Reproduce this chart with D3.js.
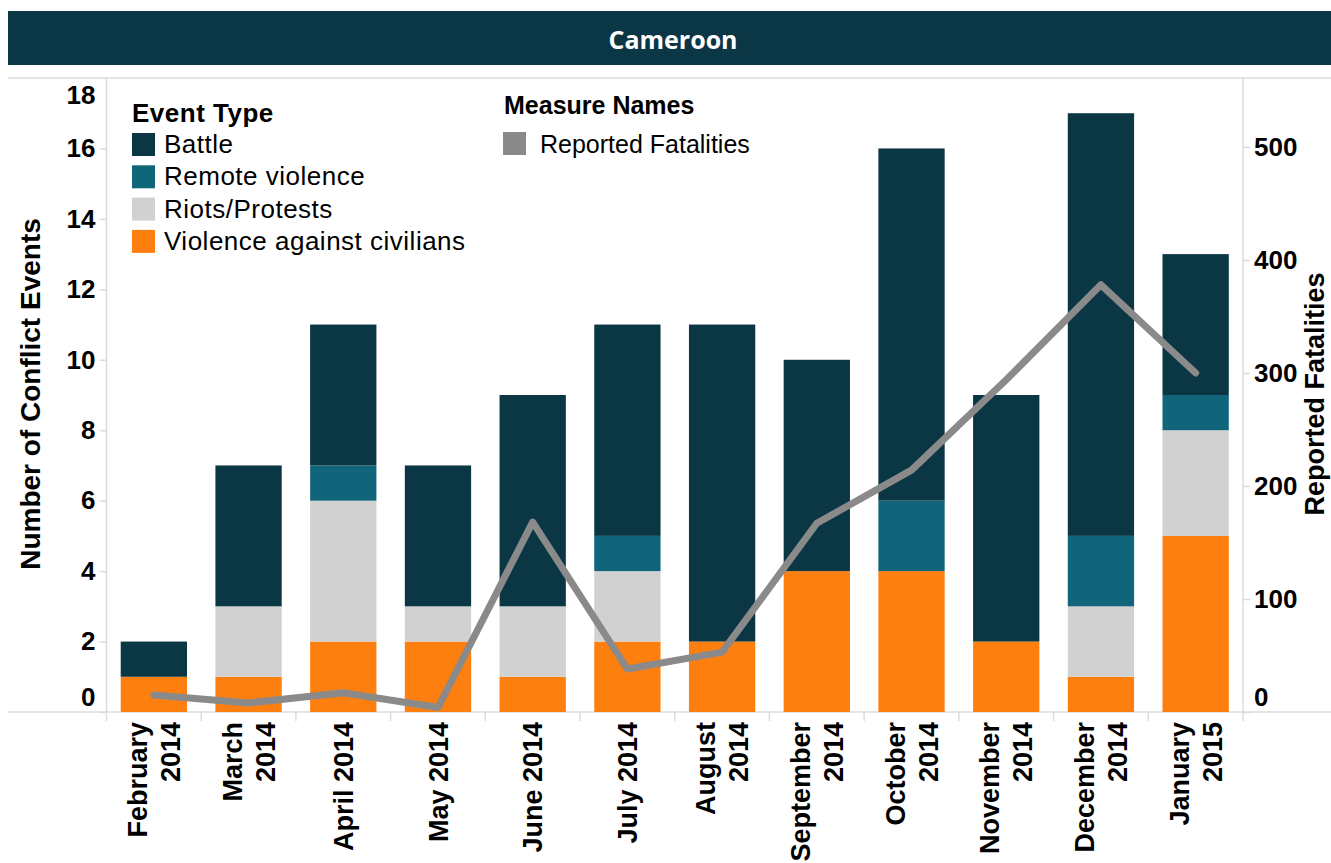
<!DOCTYPE html>
<html>
<head>
<meta charset="utf-8">
<script src="https://cdn.jsdelivr.net/npm/d3@7"></script>
<style>
	body { margin: 0; background: #fff; }
	svg { display: block; font-family: "Liberation Sans", Arial, sans-serif; }
</style>
</head>
<body>
<script>
var WIDTH = 1331, HEIGHT = 863;

var MONTHS = [
	"February 2014", "March 2014", "April 2014", "May 2014", "June 2014", "July 2014",
	"August 2014", "September 2014", "October 2014", "November 2014", "December 2014", "January 2015"
];
// how the tick labels wrap on the chart
var MONTH_LINES = [
	["February", "2014"], ["March", "2014"], ["April 2014"], ["May 2014"], ["June 2014"], ["July 2014"],
	["August", "2014"], ["September", "2014"], ["October", "2014"], ["November", "2014"], ["December", "2014"], ["January", "2015"]
];

var EVENT_TYPES = ["Battle", "Remote violence", "Riots/Protests", "Violence against civilians"];
var BATTLE = [1, 4, 4, 4, 6, 6, 9, 6, 10, 7, 12, 4];
var REMOTE = [0, 0, 1, 0, 0, 1, 0, 0, 2, 0, 2, 1];
var RIOTS = [0, 2, 4, 1, 2, 2, 0, 0, 0, 0, 2, 3];
var CIVILIANS = [1, 1, 2, 2, 1, 2, 2, 4, 4, 2, 1, 5];
var FATALITIES = [15, 8, 17, 4, 168, 38, 53, 167, 214, 294, 378, 300];

var LEFT_TICKS = [0, 2, 4, 6, 8, 10, 12, 14, 16, 18];
var RIGHT_TICKS = [0, 100, 200, 300, 400, 500];

var COLORS = {
	"Battle": "#0b3644",
	"Remote violence": "#10657b",
	"Riots/Protests": "#d1d1d1",
	"Violence against civilians": "#fd7f10"
};
var LINE_COLOR = "#8a8a8a";
var RULE = "#dcdcdc";

var layout = { left: 106.5, right: 1243, top: 78, bottom: 712 };

var rows = MONTHS.map((m, i) => ({
	month: m,
	"Battle": BATTLE[i],
	"Remote violence": REMOTE[i],
	"Riots/Protests": RIOTS[i],
	"Violence against civilians": CIVILIANS[i],
	fatal: FATALITIES[i]
}));

var svg = d3.select("body").append("svg").attr("width", WIDTH).attr("height", HEIGHT);

// Title bar
svg.append("rect").attr("x", 8).attr("y", 11).attr("width", WIDTH - 8).attr("height", 54).attr("fill", "#0b3645");
svg.append("text")
	.attr("x", 673).attr("y", 39)
	.attr("text-anchor", "middle").attr("dominant-baseline", "central")
	.style("font-family", '"Open Sans", Calibri, sans-serif')
	.style("font-weight", "bold").style("font-size", "25px")
	.attr("fill", "#fff")
	.text("Cameroon");

// Scales
var x = d3.scaleBand().domain(MONTHS).range([layout.left, layout.right]).paddingInner(0.3).paddingOuter(0.15);
var y = d3.scaleLinear().domain([0, 18]).range([layout.bottom, layout.top]);
var y2 = d3.scaleLinear().domain([0, 561]).range([layout.bottom, layout.top]);

// Frame lines
svg.append("line").attr("x1", 8).attr("x2", WIDTH).attr("y1", layout.top).attr("y2", layout.top).attr("stroke", RULE).attr("stroke-width", 1.5);
svg.append("line").attr("x1", 8).attr("x2", WIDTH).attr("y1", layout.bottom).attr("y2", layout.bottom).attr("stroke", RULE).attr("stroke-width", 1.5);
[layout.left, layout.right].forEach(xx => {
	svg.append("line").attr("x1", xx).attr("x2", xx).attr("y1", layout.top).attr("y2", layout.bottom + 9).attr("stroke", RULE).attr("stroke-width", 1.5);
});
// category separators under the baseline
svg.append("g").selectAll("line")
	.data(MONTHS.slice(1))
	.enter().append("line")
	.attr("x1", d => x(d) - x.step() * x.paddingInner() / 2)
	.attr("x2", d => x(d) - x.step() * x.paddingInner() / 2)
	.attr("y1", layout.bottom).attr("y2", layout.bottom + 9)
	.attr("stroke", RULE).attr("stroke-width", 1.5);

// Stacked bars, bottom up
var stack = d3.stack().keys(EVENT_TYPES.slice().reverse());
var series = stack(rows);

svg.append("g").attr("class", "bars")
	.selectAll("g")
	.data(series)
	.enter().append("g")
	.attr("fill", d => COLORS[d.key])
	.selectAll("rect")
	.data(d => d.filter(s => s[1] > s[0]))
	.enter().append("rect")
	.attr("x", d => x(d.data.month))
	.attr("width", x.bandwidth())
	.attr("y", d => y(d[1]))
	.attr("height", d => y(d[0]) - y(d[1]));

// Fatalities line
var line = d3.line()
	.x(d => x(d.month) + x.bandwidth() / 2)
	.y(d => y2(d.fatal));
svg.append("path")
	.datum(rows)
	.attr("d", line)
	.attr("fill", "none")
	.attr("stroke", LINE_COLOR)
	.attr("stroke-width", 7)
	.attr("stroke-linejoin", "round")
	.attr("stroke-linecap", "round");

// Axes
var leftAxis = svg.append("g")
	.attr("transform", `translate(${layout.left},0)`)
	.call(d3.axisLeft(y).tickValues(LEFT_TICKS).tickSize(7).tickPadding(4));
var rightAxis = svg.append("g")
	.attr("transform", `translate(${layout.right},0)`)
	.call(d3.axisRight(y2).tickValues(RIGHT_TICKS).tickSize(7).tickPadding(4));

[leftAxis, rightAxis].forEach(g => {
	g.select(".domain").remove();
	g.selectAll(".tick line").attr("stroke", RULE).attr("stroke-width", 1.5);
	g.selectAll(".tick text")
		.attr("fill", "#000")
		.style("font-family", '"Liberation Sans", Arial, sans-serif')
		.style("font-weight", "bold")
		.style("font-size", "26px");
});
// edge labels are pulled inside the plot, tableau style
leftAxis.selectAll(".tick").filter(d => d === 0).select("text").attr("dy", "-0.25em");
leftAxis.selectAll(".tick").filter(d => d === 18).select("text").attr("dy", "0.98em");
leftAxis.selectAll(".tick").filter(d => d === 18).select("line").remove();
rightAxis.selectAll(".tick").filter(d => d === 0).select("text").attr("dy", "-0.25em");

// Month labels, rotated
var xLabels = svg.append("g").attr("class", "xLabels")
	.selectAll("g")
	.data(MONTHS)
	.enter().append("g")
	.attr("transform", d => `translate(${x(d) + x.bandwidth() / 2},${layout.bottom + 10}) rotate(-90)`);

xLabels.each(function(d, i) {
	var lines = MONTH_LINES[i];
	d3.select(this).selectAll("text")
		.data(lines)
		.enter().append("text")
		.attr("x", 0)
		.attr("y", (t, j) => (j - (lines.length - 1) / 2) * 33)
		.attr("dy", "0.36em")
		.attr("text-anchor", "end")
		.style("font-weight", "bold")
		.style("font-size", "27px")
		.text(t => t);
});

// Axis titles (baseline placed explicitly)
svg.append("text")
	.attr("transform", "translate(40,394) rotate(-90)")
	.attr("text-anchor", "middle")
	.style("font-weight", "bold").style("font-size", "28px")
	.text("Number of Conflict Events");
svg.append("text")
	.attr("transform", "translate(1324,394) rotate(-90)")
	.attr("text-anchor", "middle")
	.style("font-weight", "bold").style("font-size", "27px")
	.text("Reported Fatalities");

// Legends
var legend = svg.append("g").attr("class", "legend").style("font-size", "26px").style("letter-spacing", "0.5px");
legend.append("text").attr("x", 132).attr("y", 122).style("font-weight", "bold").text("Event Type");
var items = legend.selectAll("g.item")
	.data(EVENT_TYPES)
	.enter().append("g").attr("class", "item")
	.attr("transform", (d, i) => `translate(132,${133 + i * 32.3})`);
items.append("rect").attr("width", 23).attr("height", 23).attr("fill", d => COLORS[d]);
items.append("text").attr("x", 32).attr("y", 20).text(d => d);

var measure = svg.append("g").attr("class", "legend").style("font-size", "25px");
measure.append("text").attr("x", 504).attr("y", 114).style("font-weight", "bold").text("Measure Names");
measure.append("rect").attr("x", 503).attr("y", 132).attr("width", 23).attr("height", 23).attr("fill", LINE_COLOR);
measure.append("text").attr("x", 540).attr("y", 153).text("Reported Fatalities");
</script>
</body>
</html>
